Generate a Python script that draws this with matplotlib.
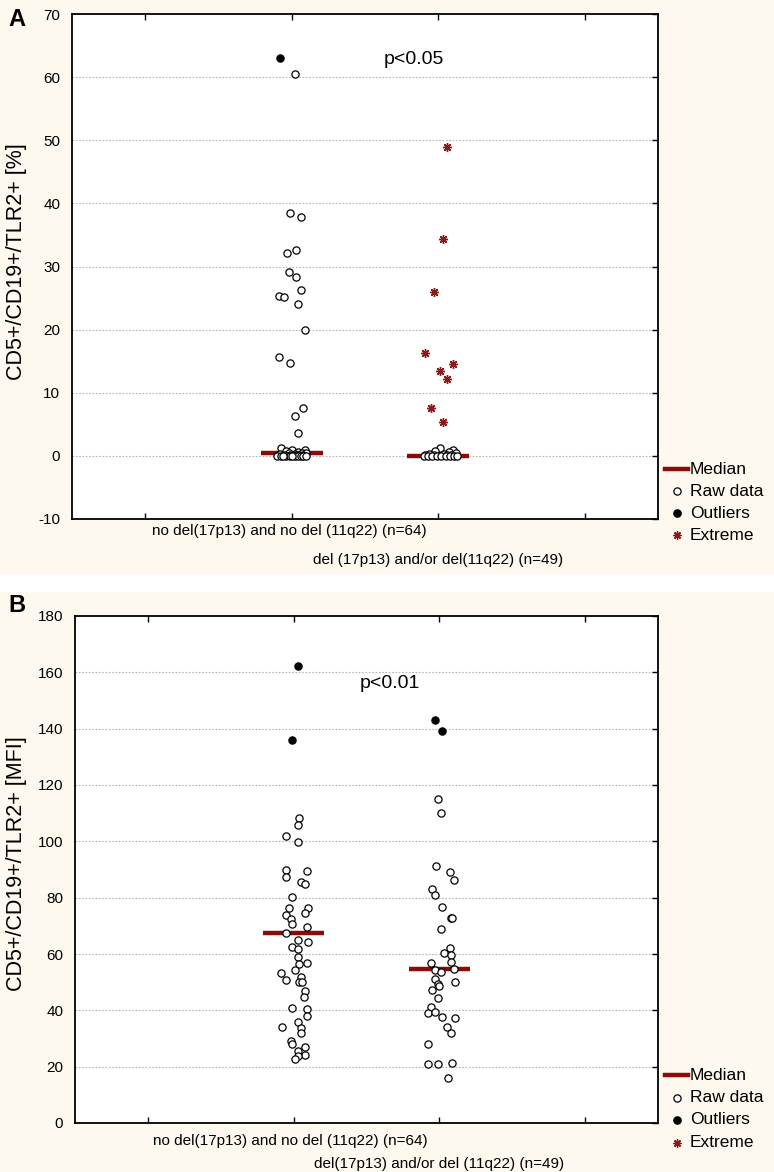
import matplotlib
matplotlib.use("Agg")
import matplotlib.pyplot as plt
from matplotlib.lines import Line2D
from matplotlib.patches import Rectangle
import numpy as np

plt.rcParams['font.family'] = ['Liberation Sans', 'DejaVu Sans']

W, H = 774, 1172
CREAM = '#fdf9ee'
MED = '#8b0a0a'
EXT = '#8b1a1a'

# ---------------- data ----------------
categories = ["no del(17p13) and no del (11q22) (n=64)",
              "del (17p13) and/or del(11q22) (n=49)"]
categories_b = ["no del(17p13) and no del (11q22) (n=64)",
                "del(17p13) and/or del (11q22) (n=49)"]

# Panel A  (%)
a1_median = 0.4
a1_outliers = [63.0]
a1_outliers_jit = [-0.08]
a1_raw = [60.5, 38.4, 37.9, 32.2, 32.6, 29.2, 28.4, 26.2, 25.3, 25.1, 24.1,
          20.0, 15.6, 14.7, 7.6, 6.3, 3.6,
          1.2, 1.0, 0.9, 0.8, 0.6, 0.5, 0.5, 0.4, 0.3, 0.3, 0.2, 0.2, 0.1,
          0.1, 0.1, 0.0, 0.0, 0.0, 0.0, 0.0, 0.0, 0.0, 0.0, 0.0, 0.0, 0.0]
a1_raw_jit = [0.02, -0.01, 0.06, -0.03, 0.03, -0.02, 0.03, 0.06, -0.09, -0.05, 0.04,
              0.09, -0.09, -0.01, 0.08, 0.02, 0.04,
              -0.07, 0.09, 0.0, -0.04, 0.04, -0.02, 0.07, 0.10, -0.08, 0.02, 0.05,
              -0.05, 0.08, -0.01, 0.03, -0.10, -0.07, -0.04, -0.01, 0.02, 0.04,
              0.06, 0.08, 0.10, -0.06, 0.0]

a2_median = 0.0
a2_extreme = [48.9, 34.3, 25.9, 16.3, 14.5, 13.4, 12.2, 7.6, 5.4]
a2_extreme_jit = [0.06, 0.03, -0.03, -0.09, 0.10, 0.01, 0.06, -0.05, 0.03]
a2_raw = [1.3, 1.0, 0.8, 0.6, 0.4, 0.3, 0.3, 0.2, 0.2, 0.1, 0.1, 0.0, 0.0,
          0.0, 0.0, 0.0, 0.0, 0.0, 0.0, 0.0]
a2_raw_jit = [0.01, 0.10, -0.02, 0.07, 0.12, -0.06, 0.04, -0.09, 0.09, -0.03,
              0.06, -0.10, -0.07, -0.04, -0.01, 0.02, 0.05, 0.08, 0.11, 0.13]

# Panel B  (MFI)
b1_median = 67.3
b1_outliers = [162.2, 136.0]
b1_outliers_jit = [0.03, -0.01]
b1_raw = [108.2, 105.8, 102.0, 99.6, 90.0, 89.5, 87.4, 85.4, 84.7, 80.1, 76.2,
          76.2, 73.8, 74.4, 72.6, 70.8, 69.6, 67.3, 64.9, 64.3, 62.5, 61.9, 59.0,
          56.6, 56.8, 54.2, 53.2, 52.0, 50.6, 50.2, 49.9, 47.0, 44.6, 40.8, 40.6,
          37.9, 34.1, 35.8, 33.8, 32.1, 29.1, 27.9, 27.0, 25.6, 24.1, 23.8, 22.6]
b1_raw_jit = [0.04, 0.03, -0.05, 0.03, -0.05, 0.09, -0.05, 0.05, 0.08, -0.01, -0.03,
              0.10, -0.05, 0.08, -0.02, -0.01, 0.09, -0.05, 0.03, 0.10, -0.01, 0.03,
              0.03, 0.04, 0.09, 0.01, -0.09, 0.05, -0.05, 0.04, 0.06, 0.08, 0.07,
              -0.01, 0.09, 0.09, -0.08, 0.03, 0.05, 0.05, -0.02, -0.01, 0.08, 0.03,
              0.08, 0.03, 0.01]

b2_median = 54.7
b2_outliers = [143.0, 139.0]
b2_outliers_jit = [-0.03, 0.02]
b2_raw = [114.9, 110.0, 91.2, 89.2, 86.1, 82.9, 80.8, 76.8, 72.7, 72.9, 68.8,
          62.0, 60.2, 59.8, 57.1, 56.8, 54.7, 54.4, 53.5, 51.2, 49.4, 50.0, 48.8,
          47.3, 44.5, 41.2, 39.1, 39.4, 37.6, 37.3, 34.1, 32.1, 28.2, 20.8, 20.8,
          21.4, 16.1]
b2_raw_jit = [-0.01, 0.01, -0.02, 0.07, 0.10, -0.05, -0.03, 0.02, 0.08, 0.09, 0.01,
              0.07, 0.03, 0.08, 0.08, -0.06, 0.10, -0.03, 0.01, -0.03, -0.01, 0.11,
              0.0, -0.05, -0.01, -0.06, -0.08, -0.03, 0.02, 0.11, 0.05, 0.08, -0.08,
              -0.08, -0.01, 0.09, 0.06]

a_yticks = list(range(-10, 71, 10))
b_yticks = list(range(0, 181, 20))

# ---------------- figure ----------------
fig = plt.figure(figsize=(W / 100, H / 100), dpi=100, facecolor='white')

def fx(px):
    return px / W

def fy(py):
    return 1 - py / H

# panel backgrounds
fig.patches.append(Rectangle((0, fy(574)), 1, 574 / H, transform=fig.transFigure,
                             facecolor=CREAM, edgecolor='none', zorder=-10))
fig.patches.append(Rectangle((0, 0), 1, (H - 592) / H, transform=fig.transFigure,
                             facecolor=CREAM, edgecolor='none', zorder=-10))


def make_axes(left, right, top, bottom):
    return fig.add_axes([fx(left), fy(bottom), fx(right) - fx(left), (bottom - top) / H])


def style(ax, yticks, ylim):
    ax.set_facecolor('white')
    ax.set_xlim(-0.5, 3.5)
    ax.set_ylim(*ylim)
    ax.set_yticks(yticks)
    ax.set_yticklabels([str(t) for t in yticks], fontsize=11)
    ax.set_xticks([0, 1, 2, 3])
    ax.set_xticklabels([])
    ax.tick_params(axis='x', which='both', direction='in', length=4, width=1,
                   top=True, bottom=True)
    ax.tick_params(axis='y', which='both', direction='in', length=4, width=1,
                   left=False, right=True, pad=8.5)
    for s in ax.spines.values():
        s.set_linewidth(1.3)
        s.set_color('black')
    for t in yticks:
        if ylim[0] < t < ylim[1]:
            ax.axhline(t, color='#b4b4b4', lw=0.8, ls=(0, (1.5, 1.5)), zorder=0)


def draw_group(ax, xc, median, raw, raw_jit, outl=None, outl_jit=None, ext=None, ext_jit=None):
    ax.plot([xc - 0.21, xc + 0.21], [median, median], color=MED, lw=3.2,
            solid_capstyle='butt', zorder=2)
    ax.plot(xc + np.array(raw_jit), raw, ls='none', marker='o', ms=5.2,
            mfc='white', mec='black', mew=0.9, zorder=3)
    if outl is not None:
        ax.plot(xc + np.array(outl_jit), outl, ls='none', marker='o', ms=5.2,
                mfc='black', mec='black', mew=0.9, zorder=3)
    if ext is not None:
        ax.plot(xc + np.array(ext_jit), ext, ls='none', marker=(8, 2, 0), ms=6.5,
                color=EXT, mew=1.0, zorder=3)


def legend(y0, dy):
    items = ['Median', 'Raw data', 'Outliers', 'Extreme']
    for i, lab in enumerate(items):
        y = fy(y0 + i * dy)
        if i == 0:
            fig.add_artist(Line2D([fx(665), fx(688)], [y, y], color=MED, lw=3.2,
                                  transform=fig.transFigure))
        elif i == 1:
            fig.add_artist(Line2D([fx(677)], [y], marker='o', ms=5.2, mfc='white',
                                  mec='black', mew=0.9, transform=fig.transFigure))
        elif i == 2:
            fig.add_artist(Line2D([fx(677)], [y], marker='o', ms=5.2, mfc='black',
                                  mec='black', transform=fig.transFigure))
        else:
            fig.add_artist(Line2D([fx(677)], [y], marker=(8, 2, 0), ms=6, color=EXT,
                                  mew=1.0, transform=fig.transFigure))
        fig.text(fx(690), y, lab, fontsize=12.5, ha='left', va='center')


def xlabels(ax, labels, off1, off2):
    trans = ax.get_xaxis_transform()
    h = ax.get_position().height * H
    ax.text(0.98, -off1 / h, labels[0], transform=trans, ha='center', va='center',
            fontsize=11)
    ax.text(2, -off2 / h, labels[1], transform=trans, ha='center', va='center',
            fontsize=11)


# Panel A
axA = make_axes(72, 658, 14, 519)
style(axA, a_yticks, (-10, 70))
draw_group(axA, 1, a1_median, a1_raw, a1_raw_jit, a1_outliers, a1_outliers_jit)
draw_group(axA, 2, a2_median, a2_raw, a2_raw_jit, ext=a2_extreme, ext_jit=a2_extreme_jit)
axA.text(1.63, 62.8, 'p<0.05', fontsize=14, ha='left', va='center')
xlabels(axA, categories, 12, 41)
fig.text(fx(17), fy(20), 'A', fontsize=17, fontweight='bold', ha='center', va='center')
fig.text(fx(17), fy(262), 'CD5+/CD19+/TLR2+ [%]', rotation=90, fontsize=15.5,
         ha='center', va='center')
legend(469, 22)

# Panel B
axB = make_axes(75, 658, 616, 1123)
style(axB, b_yticks, (0, 180))
draw_group(axB, 1, b1_median, b1_raw, b1_raw_jit, b1_outliers, b1_outliers_jit)
draw_group(axB, 2, b2_median, b2_raw, b2_raw_jit, b2_outliers, b2_outliers_jit)
axB.text(1.455, 156, 'p<0.01', fontsize=14, ha='left', va='center')
xlabels(axB, categories_b, 18, 41)
fig.text(fx(17), fy(605), 'B', fontsize=17, fontweight='bold', ha='center', va='center')
fig.text(fx(17), fy(864), 'CD5+/CD19+/TLR2+ [MFI]', rotation=90, fontsize=15.5,
         ha='center', va='center')
legend(1075, 22.5)

fig.savefig('out.png', dpi=100, facecolor=fig.get_facecolor())
